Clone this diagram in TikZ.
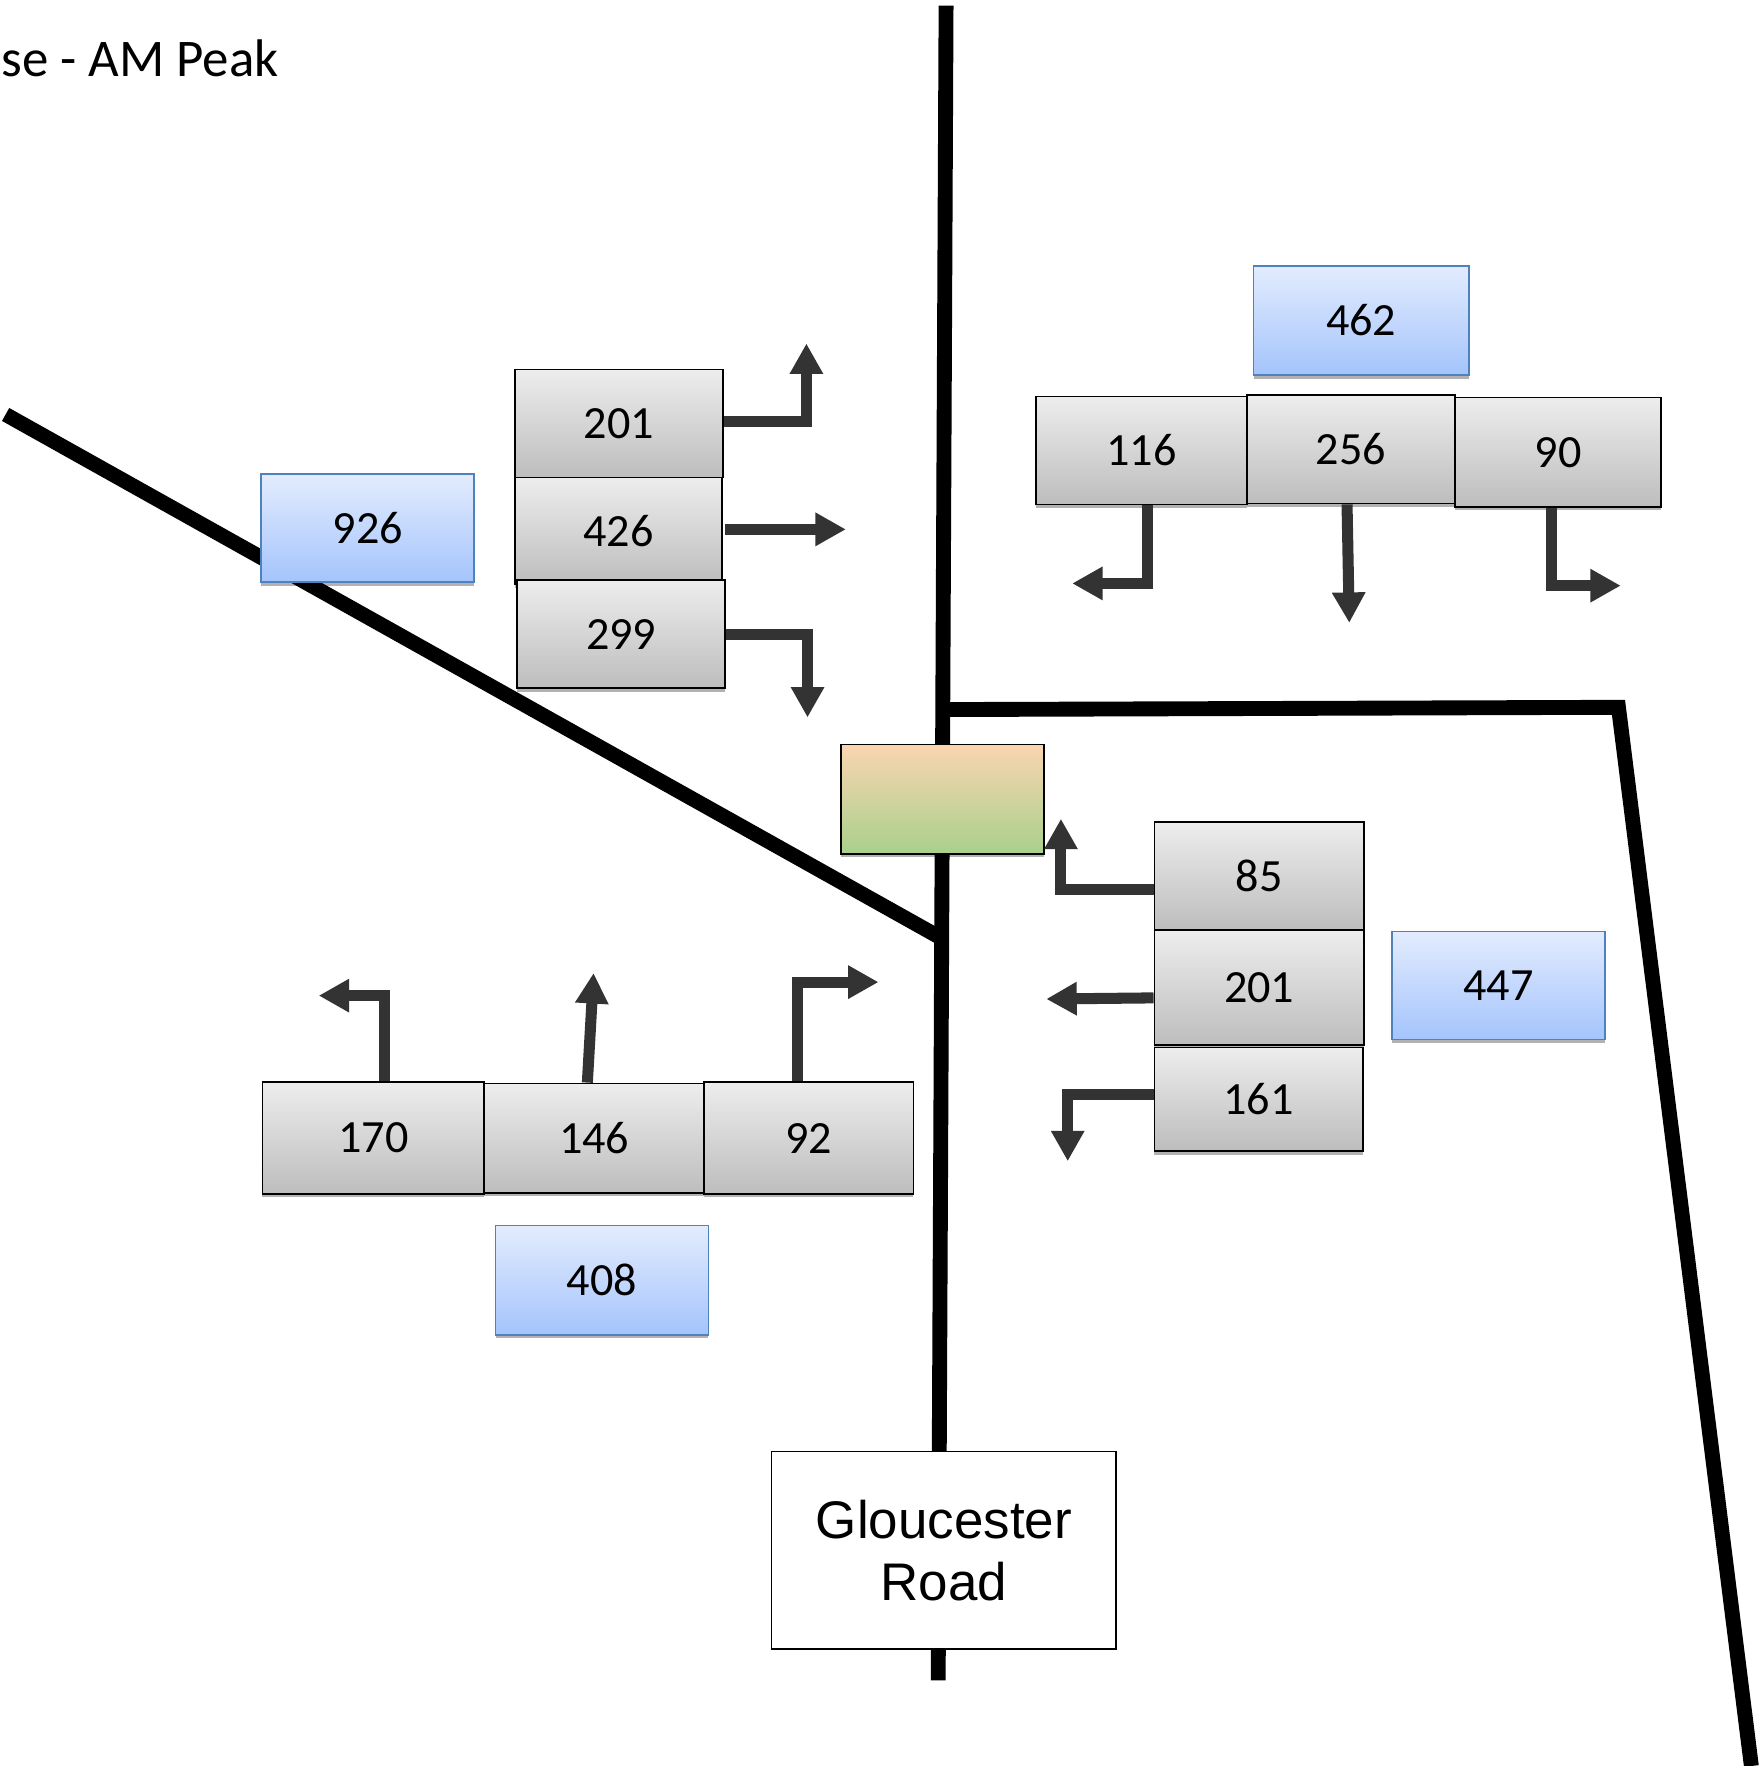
\documentclass[tikz,border=0pt]{standalone}
\usepackage{fontspec}
\setmainfont{Carlito}
\newfontfamily\labelfont{Liberation Sans}
\usetikzlibrary{arrows.meta,calc,shadows}

\definecolor{arrowgray}{HTML}{333333}
\definecolor{boxtop}{HTML}{EDEDED}
\definecolor{boxbot}{HTML}{BDBDBD}
\definecolor{bluetop}{HTML}{E3ECFE}
\definecolor{bluebot}{HTML}{A4C4FC}
\definecolor{blueline}{HTML}{4F81BD}
\definecolor{sigtop}{HTML}{FAD5B0}
\definecolor{sigbot}{HTML}{A9D08C}

\tikzset{
  road/.style={line width=6.6pt, black, line join=miter},
  countbox/.style={draw=black, line width=0.8pt, top color=boxtop, bottom color=boxbot,
    inner sep=0pt, font=\fontsize{20.5}{24}\selectfont,
    drop shadow={shadow xshift=0pt, shadow yshift=-1.6pt, fill=black, opacity=0.3}},
  totalbox/.style={draw=blueline, line width=0.8pt, top color=bluetop, bottom color=bluebot,
    inner sep=0pt, font=\fontsize{20.5}{24}\selectfont,
    drop shadow={shadow xshift=0pt, shadow yshift=-1.6pt, fill=black, opacity=0.3}},
  signalbox/.style={draw=black, line width=0.8pt, top color=sigtop, bottom color=sigbot,
    inner sep=0pt,
    drop shadow={shadow xshift=0pt, shadow yshift=-1.6pt, fill=black, opacity=0.3}},
  namebox/.style={draw=black, line width=0.6pt, fill=white, inner sep=0pt, align=center,
    font=\labelfont\fontsize{23.5}{27.5}\selectfont},
  turn/.style={draw=arrowgray, line width=4.9pt, line join=miter,
    -{Triangle[width=14pt,length=13.5pt]}},
}

\begin{document}
\begin{tikzpicture}[x=0.5pt,y=-0.5pt]
\useasboundingbox (0,0) rectangle (1565,1568);

% heading
\node[anchor=base west, inner sep=0pt, font=\fontsize{23.5}{28}\selectfont] (title) at (1,68) {se - AM Peak};

% roads
\draw[road] (840,5) -- (833,1492);
\draw[road] (5,368) -- (834,832);
\draw[road] (840,630) -- (1437,628) -- (1555,1568);

% signal and street name
\node[signalbox, minimum width=90pt, minimum height=48.5pt] (signal) at (837,709.5) {};
\node[namebox, minimum width=153pt, minimum height=87.5pt] (street) at (838,1376.5) {Gloucester\\Road};

% north-west approach
\node[totalbox, minimum width=94.5pt, minimum height=48pt] (nwtot) at (326.5,469) {926};
\node[countbox, minimum width=92.5pt, minimum height=48pt] (nwa) at (549.5,376) {201};
\node[countbox, minimum width=92pt, minimum height=47.5pt] (nwb) at (549,471.5) {426};
\node[countbox, minimum width=92.5pt, minimum height=48pt] (nwc) at (551.5,563) {299};

% north-east approach
\node[totalbox, minimum width=95.5pt, minimum height=48.5pt] (netot) at (1208.5,284.5) {462};
\node[countbox, minimum width=93.5pt, minimum height=48pt] (nea) at (1013.5,400) {116};
\node[countbox, minimum width=92.5pt, minimum height=48pt] (neb) at (1199.5,399) {256};
\node[countbox, minimum width=91.5pt, minimum height=48.5pt] (nec) at (1383.5,401.5) {90};

% south-east approach
\node[countbox, minimum width=93pt, minimum height=48pt] (sea) at (1118,778) {85};
\node[countbox, minimum width=93pt, minimum height=51pt] (seb) at (1118,877) {201};
\node[countbox, minimum width=92.5pt, minimum height=46pt] (sec) at (1117.5,976) {161};
\node[totalbox, minimum width=94.5pt, minimum height=48pt] (setot) at (1330.5,875) {447};

% south-west approach
\node[countbox, minimum width=98.5pt, minimum height=49.5pt] (swa) at (331.5,1010.5) {170};
\node[countbox, minimum width=97.5pt, minimum height=48.5pt] (swb) at (527.5,1010.5) {146};
\node[countbox, minimum width=93pt, minimum height=49.5pt] (swc) at (718,1010.5) {92};
\node[totalbox, minimum width=94.5pt, minimum height=48.5pt] (swtot) at (534.5,1136.5) {408};

% arrow tips
\coordinate (tnwa) at (716,305);
\coordinate (tnwb) at (751,470);
\coordinate (tnwc) at (717,637);
\coordinate (tnea) at (952,518);
\coordinate (tneb) at (1198,553);
\coordinate (tnec) at (1439,520);
\coordinate (tsea) at (942,727);
\coordinate (tseb) at (929,887);
\coordinate (tsec) at (948,1031);
\coordinate (tswa) at (283,884);
\coordinate (tswb) at (527,864);
\coordinate (tswc) at (780,872);

% turning movements
\draw[turn] ($(nwa.east)+(0,-2)$) -| (tnwa);
\draw[turn] ($(nwb.east)+(2,-1.5)$) -- (tnwb);
\draw[turn] (nwc.east) -| (tnwc);

\draw[turn] ($(nea.south)+(5.5,0)$) |- (tnea);
\draw[turn] ($(neb.south)+(-3.5,0)$) -- (tneb);
\draw[turn] ($(nec.south)+(-6,0)$) |- (tnec);

\draw[turn] ($(sea.west)+(0,12)$) -| (tsea);
\draw[turn] ($(seb.west)+(0,9)$) -- (tseb);
\draw[turn] ($(sec.west)+(0,-4)$) -| (tsec);

\draw[turn] ($(swa.north)+(9.5,0)$) |- (tswa);
\draw[turn] ($(swb.north)+(-6,0)$) -- (tswb);
\draw[turn] ($(swc.north)+(-10,0)$) |- (tswc);
\end{tikzpicture}
\end{document}
